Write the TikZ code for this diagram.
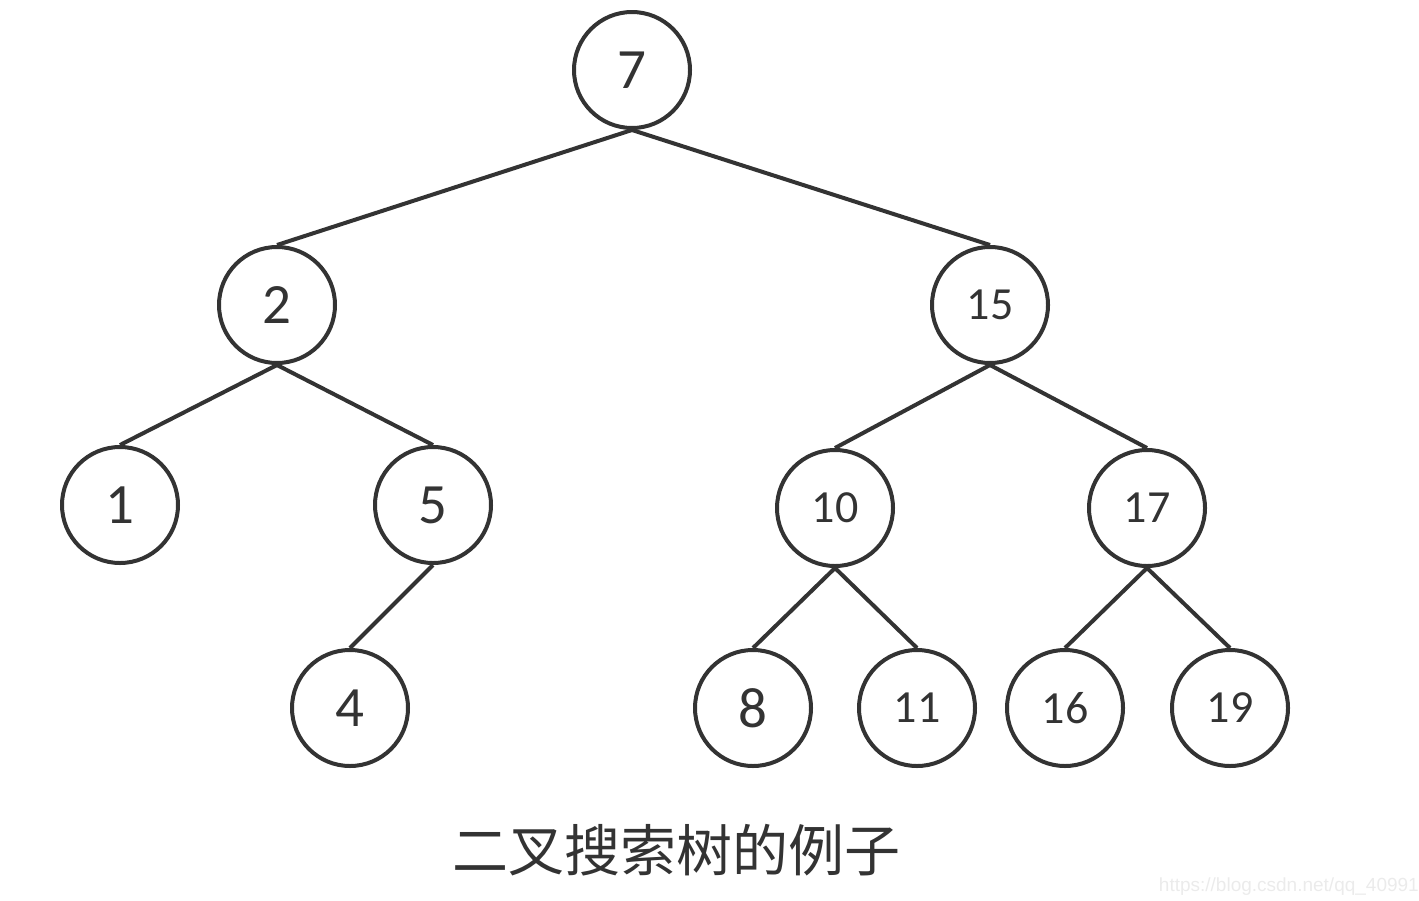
\documentclass[tikz,border=0pt]{standalone}
\usepackage{fontspec}
\setmainfont{Carlito}
\newfontfamily\cjk{Noto Sans CJK SC}
\newfontfamily\wm{Liberation Sans}
\definecolor{ink}{HTML}{333333}
\begin{document}
\begin{tikzpicture}[x=1pt,y=-1pt,
  tnode/.style={circle,draw=ink,line width=4pt,minimum size=116pt,inner sep=0pt,text=ink},
  big/.style={font=\fontsize{57}{60}\selectfont},
  small/.style={font=\fontsize{46}{50}\selectfont},
  edge/.style={draw=ink,line width=4pt}]
\useasboundingbox (0,0) rectangle (1419,900);
\node[tnode,big] (n7) at (632,70) {7};
\node[tnode,big] (n2) at (277,305) {2};
\node[tnode,small] (n15) at (990,305) {15};
\node[tnode,big] (n1) at (120,505) {1};
\node[tnode,big] (n5) at (433,505) {5};
\node[tnode,small] (n10) at (835,508) {10};
\node[tnode,small] (n17) at (1147,508) {17};
\node[tnode,big] (n4) at (350,708) {4};
\node[tnode,big] (n8) at (753,708) {8};
\node[tnode,small] (n11) at (917,708) {11};
\node[tnode,small] (n16) at (1065,708) {16};
\node[tnode,small] (n19) at (1230,708) {19};
\draw[edge] (n7.south) -- (n2.north);
\draw[edge] (n7.south) -- (n15.north);
\draw[edge] (n2.south) -- (n1.north);
\draw[edge] (n2.south) -- (n5.north);
\draw[edge] (n5.south) -- (n4.north);
\draw[edge] (n15.south) -- (n10.north);
\draw[edge] (n15.south) -- (n17.north);
\draw[edge] (n10.south) -- (n8.north);
\draw[edge] (n10.south) -- (n11.north);
\draw[edge] (n17.south) -- (n16.north);
\draw[edge] (n17.south) -- (n19.north);
\node[text=ink,font=\cjk\fontsize{56}{60}\selectfont] (cap) at (676,850) {二叉搜索树的例子};
\node[text=black!8,font=\wm\fontsize{19}{22}\selectfont,anchor=east,inner sep=0pt] (wm) at (1419,887) {https://blog.csdn.net/qq\_40991};
\end{tikzpicture}
\end{document}
